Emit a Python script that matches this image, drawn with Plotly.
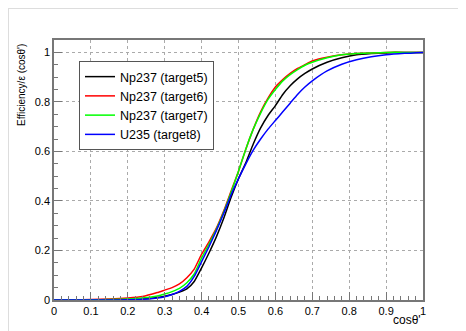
import plotly.graph_objects as go

x = [0, 0.05, 0.1, 0.15, 0.2, 0.24, 0.28, 0.30, 0.32, 0.34, 0.36, 0.38, 0.40, 0.42, 0.44,
     0.46, 0.48, 0.50, 0.52, 0.54, 0.56, 0.58, 0.60, 0.62, 0.64, 0.66, 0.68, 0.70,
     0.74, 0.78, 0.82, 0.86, 0.90, 0.95, 1.0]

np237_t5 = [0, 0, 0, 0.001, 0.002, 0.004, 0.010, 0.015, 0.022, 0.032, 0.045, 0.075, 0.13, 0.19, 0.255,
            0.33, 0.415, 0.49, 0.555, 0.63, 0.695, 0.745, 0.785, 0.83, 0.865, 0.893, 0.915, 0.933,
            0.96, 0.978, 0.99, 0.995, 0.998, 1.0, 1.0]
np237_t6 = [0, 0, 0.002, 0.004, 0.008, 0.014, 0.030, 0.040, 0.050, 0.065, 0.09, 0.125, 0.185, 0.235, 0.29,
            0.36, 0.44, 0.52, 0.61, 0.69, 0.76, 0.815, 0.86, 0.89, 0.915, 0.935, 0.95, 0.965,
            0.98, 0.99, 0.995, 0.998, 1.0, 1.0, 1.0]
np237_t7 = [0, 0, 0.001, 0.002, 0.004, 0.008, 0.016, 0.024, 0.034, 0.047, 0.07, 0.105, 0.17, 0.225, 0.285,
            0.355, 0.435, 0.52, 0.61, 0.69, 0.755, 0.81, 0.85, 0.885, 0.91, 0.93, 0.948, 0.96,
            0.978, 0.99, 0.995, 0.998, 1.0, 1.0, 1.0]
u235_t8 = [0, 0, 0, 0, 0.001, 0.003, 0.008, 0.013, 0.022, 0.035, 0.055, 0.095, 0.155, 0.215, 0.28,
           0.35, 0.425, 0.49, 0.55, 0.605, 0.65, 0.69, 0.725, 0.76, 0.795, 0.83, 0.86, 0.885,
           0.925, 0.952, 0.97, 0.982, 0.99, 0.996, 1.0]

series = [
    ("Np237 (target5)", np237_t5, "#000000"),
    ("Np237 (target6)", np237_t6, "#ff0000"),
    ("Np237 (target7)", np237_t7, "#00ff00"),
    ("U235 (target8)", u235_t8, "#0000ff"),
]

fig = go.Figure()
for name, ys, col in series:
    fig.add_trace(go.Scatter(x=x, y=ys, mode="lines", name=name,
                             line=dict(color=col, width=1.5, shape="spline", smoothing=0.5)))

# The page body adds an 8px offset; the figure covers page x 8..466, y 8..331.
W, H = 458, 323
L, R, T, B = 46, 43, 32, 31


def px_x(p):
    # page pixel x -> paper coordinate
    return (p - 54) / 369.0


def px_y(p):
    # page pixel y -> paper coordinate
    return (300 - p) / 260.0


font = "Liberation Sans, Arial, Helvetica, sans-serif"

axis_common = dict(showgrid=True, gridcolor="#aaaaaa", griddash="dot", gridwidth=1,
                   zeroline=False, showline=True, linecolor="#777777", linewidth=1.5, mirror=True,
                   ticks="inside", ticklen=8, tickcolor="#777777", automargin=False,
                   tickfont=dict(size=11, color="black", family=font))

fig.update_layout(
    width=W, height=H,
    margin=dict(l=L, r=R, t=T, b=B, pad=0),
    paper_bgcolor="white", plot_bgcolor="white",
    font=dict(family=font, size=11, color="black"),
    showlegend=True,
    legend=dict(x=px_x(79), y=px_y(61), xanchor="left", yanchor="top",
                bgcolor="white", bordercolor="#555555", borderwidth=1,
                font=dict(size=12.5, family=font, color="black"),
                tracegroupgap=0, itemwidth=30),
    xaxis=dict(range=[0, 1], dtick=0.1, tick0=0,
               minor=dict(dtick=0.02, ticks="inside", ticklen=4, tickcolor="#777777", showgrid=False),
               **axis_common),
    yaxis=dict(range=[0, 1.05], dtick=0.2, tick0=0,
               minor=dict(dtick=0.05, ticks="inside", ticklen=4, tickcolor="#777777", showgrid=False),
               **axis_common),
    annotations=[
        dict(text="Efficiency/\u03b5 (cos\u03b8')", textangle=-90, xref="paper", yref="paper",
             x=px_x(21), y=px_y(42), xanchor="center", yanchor="top", showarrow=False,
             font=dict(size=10, family=font, color="black")),
        dict(text="cos\u03b8'", xref="paper", yref="paper", x=1.0, y=px_y(320),
             xanchor="right", yanchor="middle", showarrow=False,
             font=dict(size=12, family=font, color="black")),
    ],
    shapes=[
        dict(type="line", xref="paper", yref="paper", x0=px_x(8), x1=px_x(466), y0=px_y(8.5), y1=px_y(8.5),
             line=dict(color="#dddddd", width=1)),
        dict(type="line", xref="paper", yref="paper", x0=px_x(8.5), x1=px_x(8.5), y0=px_y(8), y1=px_y(331),
             line=dict(color="#dddddd", width=1)),
    ],
)

fig.write_html("out.html")
